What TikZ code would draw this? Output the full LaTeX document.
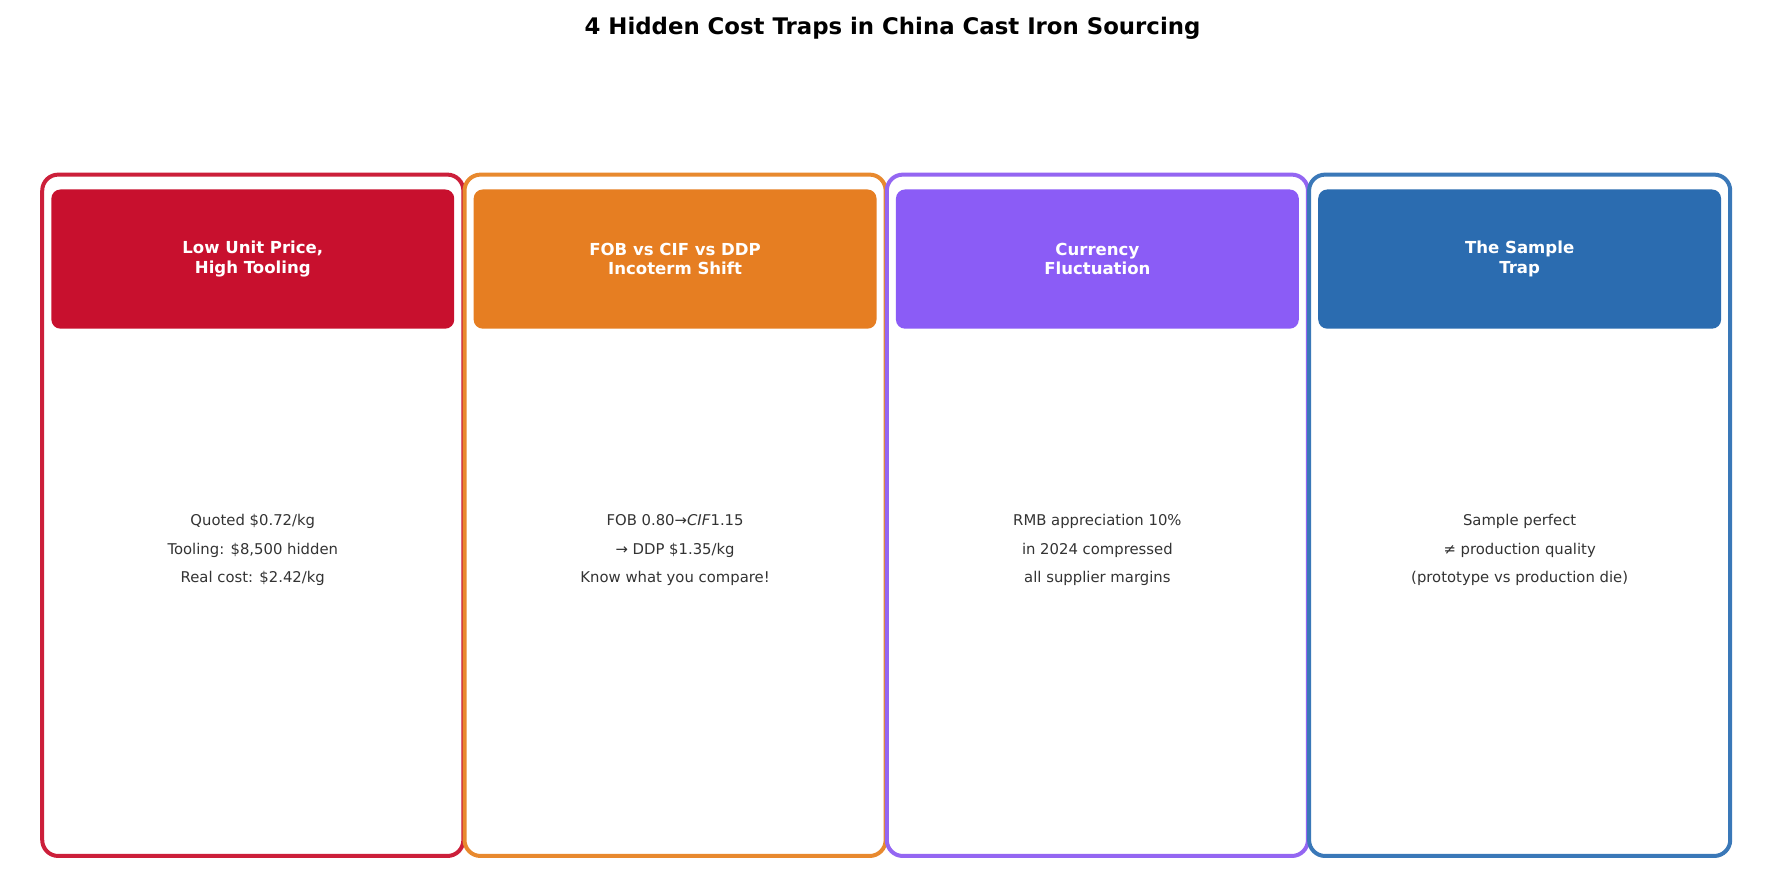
\documentclass[tikz,border=0pt]{standalone}
\usepackage{fontspec}
\setmainfont{DejaVu Sans}
\definecolor{cred}{HTML}{C8102E}
\definecolor{corange}{HTML}{E67E22}
\definecolor{cpurple}{HTML}{8B5CF6}
\definecolor{cblue}{HTML}{2B6CB0}
\definecolor{bred}{HTML}{CC1F3A}
\definecolor{borange}{HTML}{E8892E}
\definecolor{bpurple}{HTML}{9466F2}
\definecolor{bblue}{HTML}{3A78B8}
\definecolor{txt}{HTML}{333333}
\begin{document}
\begin{tikzpicture}[x=1pt,y=1pt,
  card/.style={draw=#1,line width=3.5pt,rounded corners=14pt,fill=white},
  head/.style={fill=#1,rounded corners=8pt},
  htext/.style={text=white,font=\fontsize{14.5}{17}\selectfont\bfseries,align=center},
  btext/.style={text=txt,font=\fontsize{13}{25}\selectfont,align=center}]
\useasboundingbox (0,0) rectangle (1564,-775);
\node[font=\fontsize{20}{24}\selectfont\bfseries] (title) at (782,-25) {4 Hidden Cost Traps in China Cast Iron Sourcing};
\foreach \i/\bc/\hc in {0/bred/cred,1/borange/corange,2/bpurple/cpurple,3/bblue/cblue}{
  \draw[card=\bc] (37+370*\i,-153) rectangle (406+370*\i,-750);
  \fill[head=\hc] (45+370*\i,-166) rectangle (398+370*\i,-288);
}
\node[htext] (h1) at (221.5,-227) {Low Unit Price,\\High Tooling};
\node[htext] (h2) at (591.5,-227) {FOB vs CIF vs DDP\\Incoterm Shift};
\node[htext] (h3) at (961.5,-227) {Currency\\Fluctuation};
\node[htext] (h4) at (1331.5,-227) {The Sample\\Trap};
\node[btext] (b1) at (221.5,-482) {Quoted \$0.72/kg\\Tooling: \$8,500 hidden\\Real cost: \$2.42/kg};
\node[btext] (b2) at (591.5,-482) {FOB 0.80→\textit{CIF}1.15\\→ DDP \$1.35/kg\\Know what you compare!};
\node[btext] (b3) at (961.5,-482) {RMB appreciation 10\%\\in 2024 compressed\\all supplier margins};
\node[btext] (b4) at (1331.5,-482) {Sample perfect\\≠ production quality\\(prototype vs production die)};
\end{tikzpicture}
\end{document}
